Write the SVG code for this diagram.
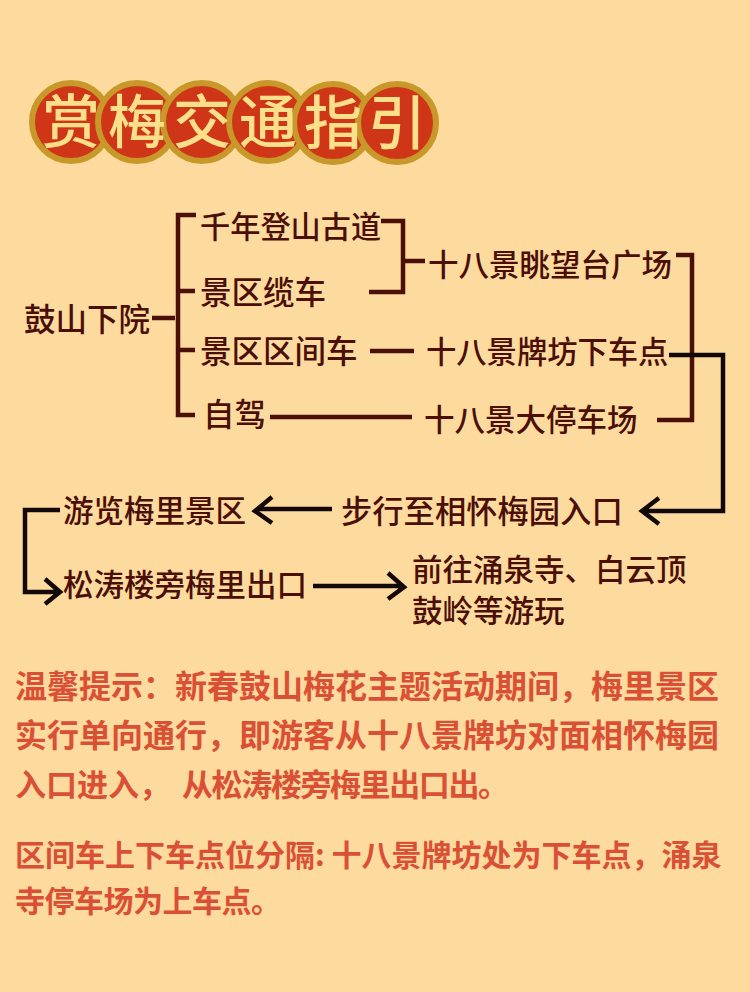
<svg xmlns="http://www.w3.org/2000/svg" width="750" height="992" viewBox="0 0 750 992">
<style>
text{font-family:"Noto Sans CJK SC","Noto Sans",sans-serif}
.t{font-size:31px;fill:#4b0f08;font-weight:500}
.n{font-size:32px;fill:#da5036;font-weight:700}
.h{font-size:58px;fill:#fbe08c;text-anchor:middle;font-weight:500}
.c{fill:#cf3618;stroke:#c8982a;stroke-width:6}
.b{fill:none;stroke:#4b0f08;stroke-width:4.500}
.k{fill:none;stroke:#120807;stroke-width:4.500}
</style>
<rect width="750" height="992" fill="#fddb9e"/>
<g id="title">
<circle class="c" cx="71" cy="122" r="39"/><circle class="c" cx="137" cy="122" r="39"/><circle class="c" cx="202" cy="122" r="39"/><circle class="c" cx="268" cy="122" r="39"/><circle class="c" cx="333" cy="123" r="39"/><circle class="c" cx="397" cy="123" r="39"/>
<text class="h" x="71" y="143">赏</text><text class="h" x="137" y="143">梅</text><text class="h" x="202" y="143">交</text><text class="h" x="268" y="143">通</text><text class="h" x="333" y="144">指</text><text class="h" x="397" y="144">引</text>
</g>
<g id="connectors">
<path class="b" d="M152 318H175M196 215H178V415H195M178 291H195M178 350H195"/>
<path class="b" d="M381 221H403V292H369M403 261H425"/>
<path class="b" d="M370 351H414M270 417H412"/>
<path class="b" d="M676 255H692V420H657"/>
<path class="k" d="M669 355H723V511H644M659 498L642 511L659 524"/>
<path class="k" d="M332 509H257M272 497L255 511L272 523"/>
<path class="k" d="M60 510H25V592H58M45 579L60 592L45 604"/>
<path class="k" d="M313 586H402M388 573L404 587L388 599"/>
</g>
<g id="n1"><text class="t" x="24" y="331" style="font-size:31.500px">鼓山下院</text></g>
<g id="n2"><text class="t" x="200" y="238" style="font-size:30.200px">千年登山古道</text></g>
<g id="n3"><text class="t" x="200" y="304" style="font-size:31.500px">景区缆车</text></g>
<g id="n4"><text class="t" x="200" y="363" style="font-size:31.500px">景区区间车</text></g>
<g id="n5"><text class="t" x="203" y="426" style="font-size:31.500px">自驾</text></g>
<g id="n6"><text class="t" x="428" y="276" style="font-size:30.500px">十八景眺望台广场</text></g>
<g id="n7"><text class="t" x="426" y="363" style="font-size:30.300px">十八景牌坊下车点</text></g>
<g id="n8"><text class="t" x="424" y="431" style="font-size:30.500px">十八景大停车场</text></g>
<g id="n9"><text class="t" x="341" y="523" style="font-size:31.300px">步行至相怀梅园入口</text></g>
<g id="n10"><text class="t" x="63" y="522" style="font-size:30.500px">游览梅里景区</text></g>
<g id="n11"><text class="t" x="63" y="596" style="font-size:30.500px">松涛楼旁梅里出口</text></g>
<g id="n12"><text class="t" x="412" y="581" style="font-size:30.500px">前往涌泉寺、白云顶</text><text class="t" x="412" y="622" style="font-size:30.500px">鼓岭等游玩</text></g>
<g id="notes">
<text class="n" x="15" y="698">温馨提示：新春鼓山梅花主题活动期间，梅里景区</text>
<text class="n" x="15" y="747">实行单向通行，即游客从十八景牌坊对面相怀梅园</text>
<text class="n" x="15" y="796" xml:space="preserve" style="font-size:31px">入口进入， <tspan x="182" letter-spacing="-1.400">从松涛楼旁梅里出口出。</tspan></text>
<text class="n" x="15" y="866" style="font-size:30px">区间车上下车点位分隔: 十八景牌坊处为下车点，涌泉</text>
<text class="n" x="15" y="912" style="font-size:30px" letter-spacing="-0.500">寺停车场为上车点。</text>
</g>
</svg>
